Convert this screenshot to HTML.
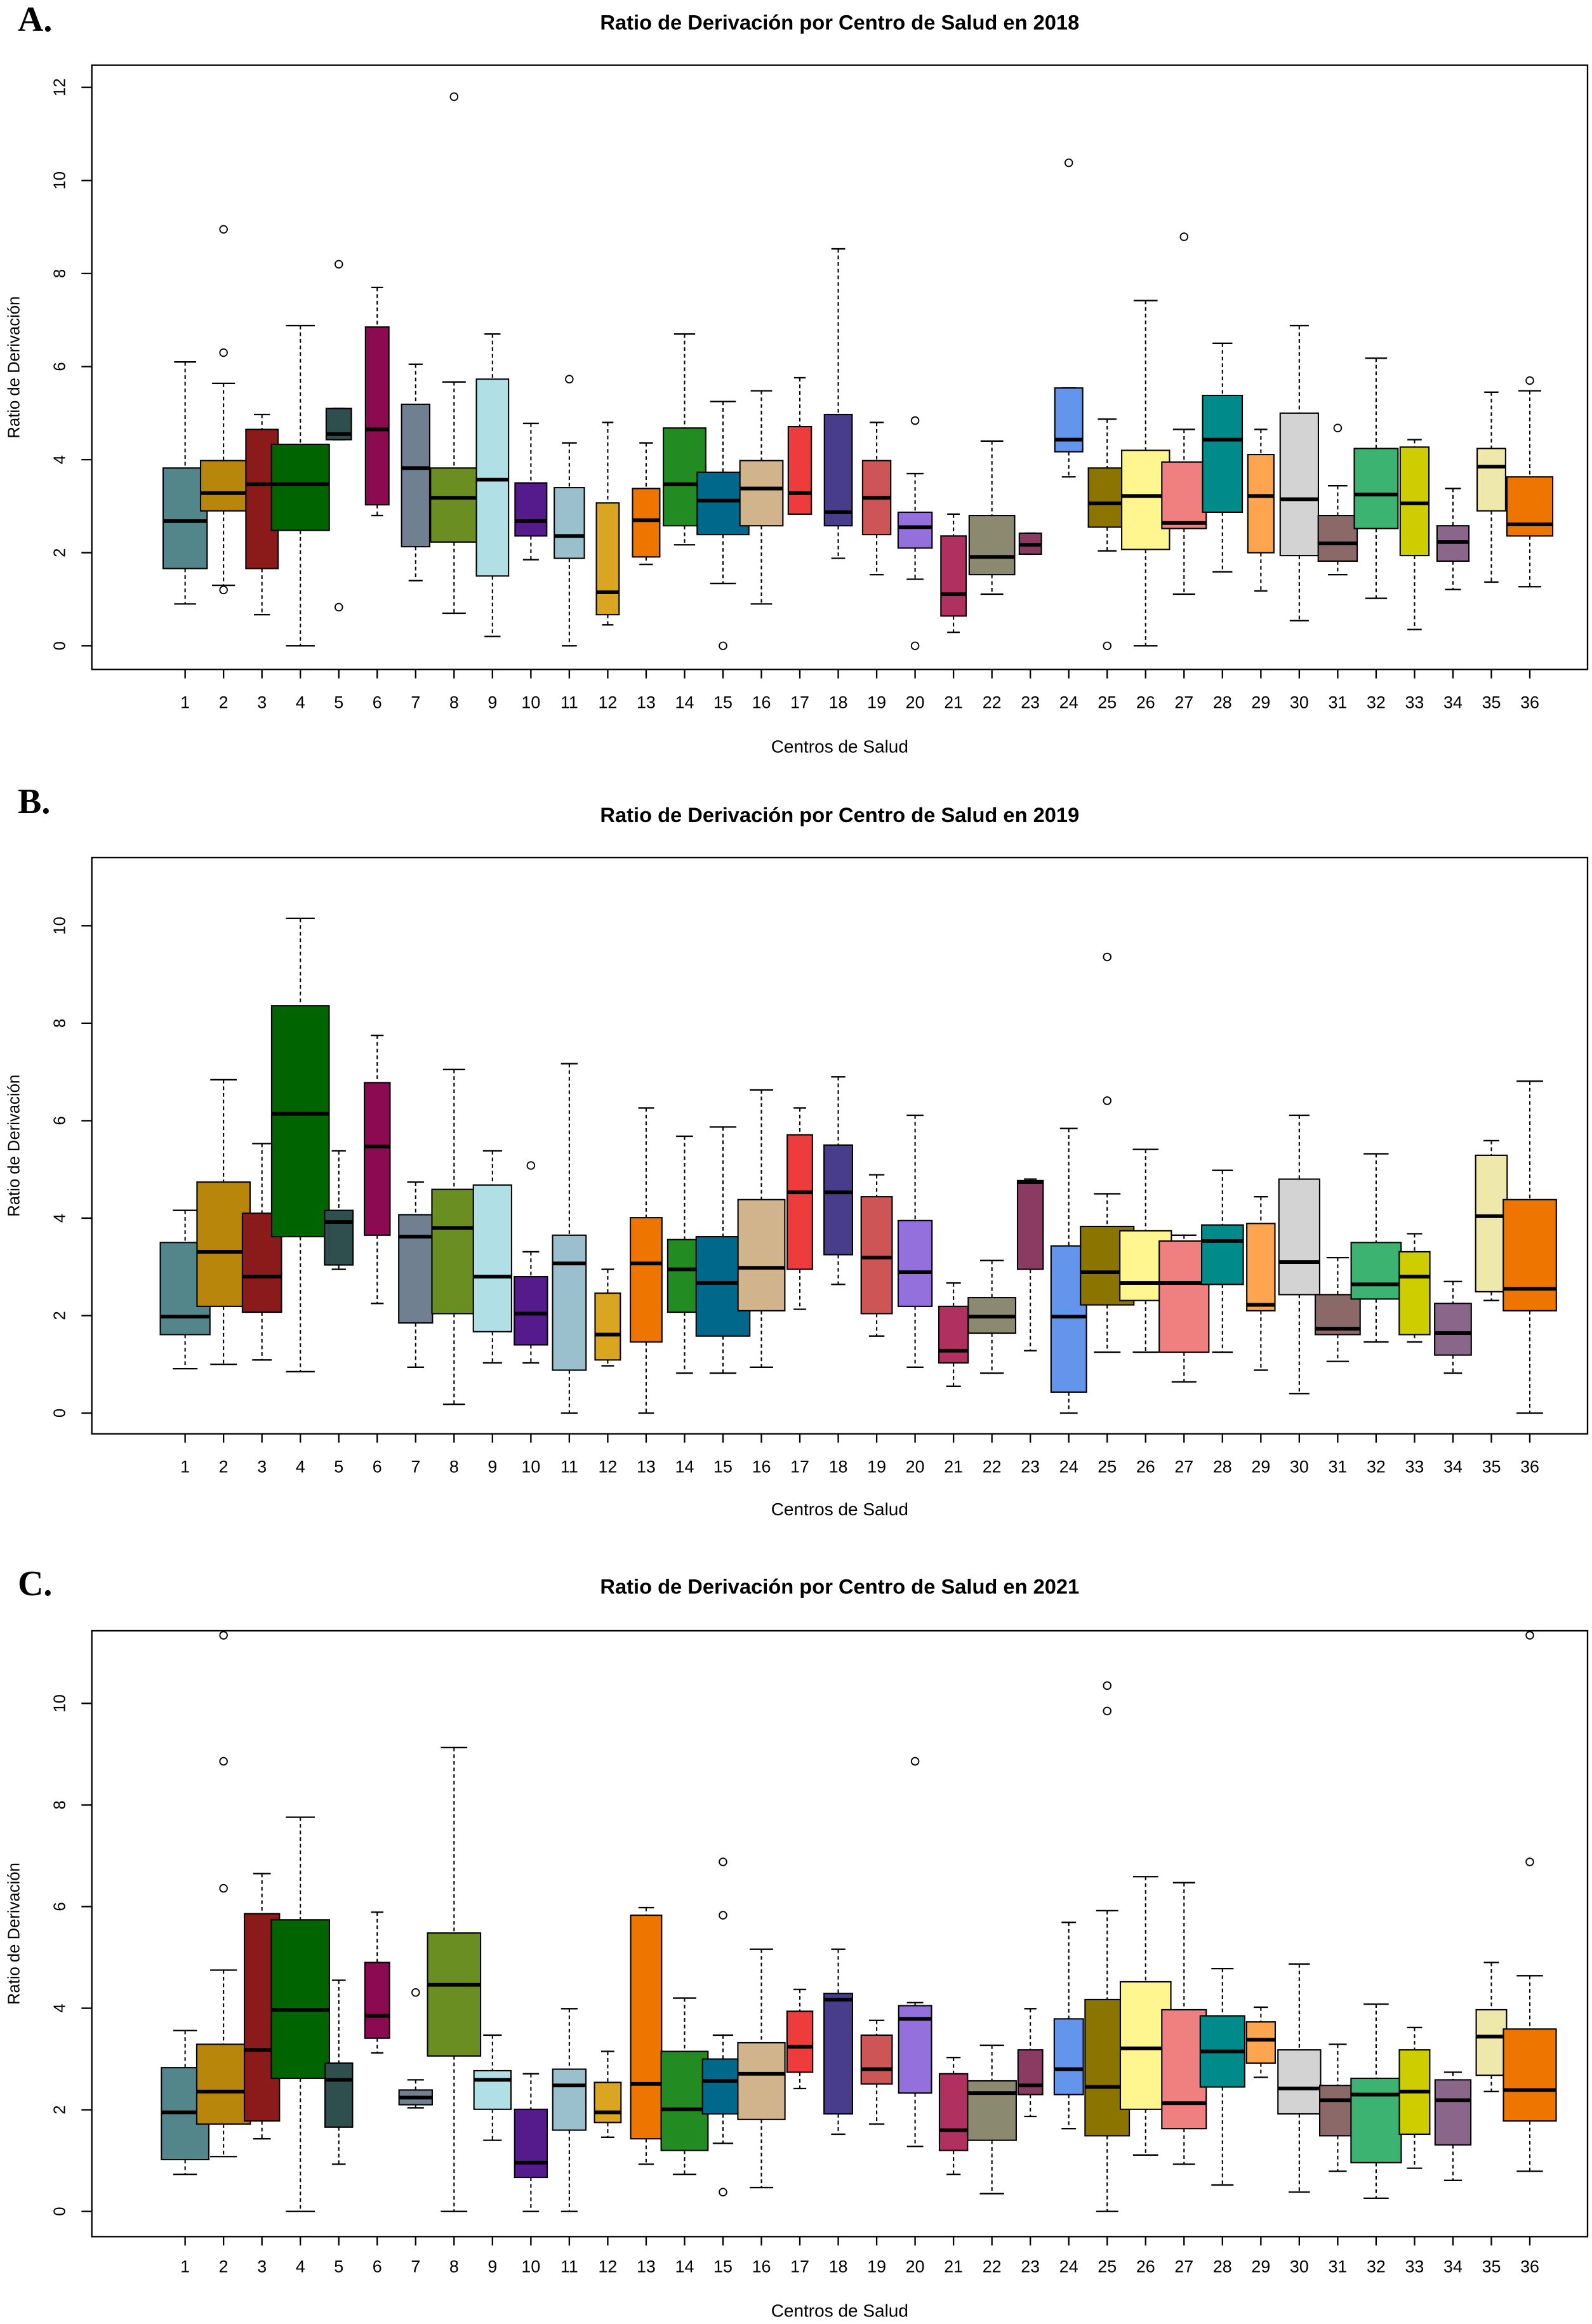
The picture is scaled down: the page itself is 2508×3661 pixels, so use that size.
<!DOCTYPE html>
<html><head><meta charset="utf-8"><style>
html,body{margin:0;padding:0;background:#fff}
svg{display:block}
text{font-family:"Liberation Sans",sans-serif}
</style></head><body>
<svg id="chart" width="2508" height="3661" viewBox="0 0 1075 1569" preserveAspectRatio="none" xmlns="http://www.w3.org/2000/svg"></svg>
<script>
const centers = Array.from({length:36},(_,i)=>String(i+1));
const colors = ["#53868B","#B8860B","#8B1A1A","#006400","#2F4F4F","#8B0A50","#708090","#6B8E23","#B0E0E6","#551A8B","#9AC0CD","#DAA520","#EE7600","#228B22","#00688B","#D2B48C","#EE3B3B","#483D8B","#CD5555","#9370DB","#B03060","#8B8970","#8B3A62","#6495ED","#8B7500","#FFF68F","#F08080","#008B8B","#FFA54F","#D3D3D3","#8B6969","#3CB371","#CDCD00","#8B668B","#EEE8AA","#EE7600"];

// 2018
const loA  =[0.9,1.3,0.67,0,4.43,2.8,1.4,0.7,0.2,1.85,0,0.45,1.75,2.17,1.34,0.9,2.83,1.88,1.53,1.43,0.29,1.11,1.97,3.63,2.04,0,1.11,1.59,1.18,0.54,1.53,1.02,0.35,1.21,1.37,1.27];
const q1A  =[1.66,2.9,1.66,2.48,4.43,3.03,2.13,2.23,1.5,2.36,1.88,0.67,1.91,2.58,2.39,2.58,2.83,2.58,2.39,2.1,0.64,1.53,1.97,4.17,2.55,2.07,2.52,2.87,2.0,1.94,1.82,2.52,1.94,1.82,2.9,2.36];
const medA =[2.68,3.28,3.47,3.47,4.55,4.65,3.82,3.18,3.57,2.68,2.36,1.15,2.7,3.47,3.12,3.38,3.28,2.87,3.18,2.55,1.11,1.91,2.17,4.43,3.06,3.22,2.64,4.43,3.22,3.15,2.2,3.25,3.06,2.23,3.85,2.61];
const q3A  =[3.82,3.98,4.65,4.33,5.1,6.85,5.19,3.82,5.73,3.5,3.4,3.07,3.38,4.68,3.73,3.98,4.71,4.97,3.98,2.87,2.36,2.8,2.42,5.54,3.82,4.2,3.95,5.38,4.11,5.0,2.8,4.24,4.27,2.58,4.24,3.63];
const hiA  =[6.1,5.64,4.97,6.88,5.1,7.7,6.05,5.67,6.7,4.78,4.36,4.8,4.36,6.7,5.25,5.48,5.76,8.53,4.8,3.7,2.83,4.4,2.42,5.54,4.87,7.42,4.65,6.5,4.65,6.88,3.44,6.18,4.43,3.38,5.45,5.48];
const outA =[[],[8.95,6.3,1.2],[],[],[8.2,0.83],[],[],[11.8],[],[],[5.73],[],[],[],[0],[],[],[],[],[4.84,0],[],[],[],[10.38],[0],[],[8.79],[],[],[],[4.68],[],[],[],[],[5.7]];
const wA   =[29.7,31,21.7,39,17,15.8,19,31.7,21.7,21.4,20.3,15.3,18.4,28.6,34.9,29,15.6,18.7,19,22.9,17,30.7,14.9,18.8,25.4,32.3,30,26.8,17.6,25.8,26.3,29.5,19.4,21.5,19.2,30.9];
// 2019
const loB  =[0.91,1.0,1.09,0.85,2.95,2.25,0.94,0.18,1.03,1.03,0,0.97,0,0.82,0.82,0.94,2.13,2.64,1.58,0.94,0.55,0.82,1.28,0,1.25,1.25,0.64,1.25,0.88,0.4,1.06,1.46,1.46,0.82,2.31,0];
const q1B  =[1.61,2.19,2.07,3.62,3.04,3.65,1.85,2.04,1.67,1.4,0.88,1.09,1.46,2.07,1.58,2.1,2.95,3.25,2.04,2.19,1.03,1.64,2.95,0.43,2.22,2.31,1.25,2.64,2.1,2.43,1.61,2.34,1.61,1.19,2.49,2.1];
const medB =[1.98,3.31,2.8,6.14,3.92,5.47,3.62,3.8,2.8,2.04,3.07,1.61,3.07,2.95,2.67,2.98,4.53,4.53,3.19,2.89,1.28,1.98,4.74,1.98,2.89,2.67,2.67,3.53,2.22,3.1,1.73,2.64,2.8,1.64,4.04,2.55];
const q3B  =[3.5,4.74,4.1,8.36,4.16,6.78,4.07,4.59,4.68,2.8,3.65,2.46,4.01,3.56,3.62,4.38,5.71,5.5,4.44,3.95,2.19,2.37,4.77,3.43,3.83,3.74,3.53,3.86,3.89,4.8,2.43,3.5,3.31,2.25,5.29,4.38];
const hiB  =[4.16,6.84,5.53,10.15,5.38,7.75,4.74,7.05,5.38,3.31,7.17,2.95,6.26,5.68,5.87,6.63,6.26,6.9,4.89,6.11,2.67,3.13,4.8,5.84,4.5,5.41,3.65,4.98,4.44,6.11,3.19,5.32,3.68,2.7,5.59,6.81];
const outB =[[],[],[],[],[],[],[],[],[],[5.08],[],[],[],[],[],[],[],[],[],[],[],[],[],[],[6.41,9.36],[],[],[],[],[],[],[],[],[],[],[]];
const wB   =[33.5,35.8,26.4,38.8,19.2,17.3,22.8,29.9,25.8,22.4,22.6,17.1,21.3,22.8,36.2,31.6,17,19.2,20.9,22.8,19.8,32,17.3,23.9,36,34.8,33.5,28.1,19,27.5,30.3,33.7,20.7,24.7,21.3,35.8];
// 2021
const loC  =[0.73,1.08,1.43,0,0.93,3.12,2.04,0,1.4,0,0,1.46,0.93,0.73,1.34,0.47,2.42,1.52,1.72,1.28,0.73,0.35,1.87,1.63,0,1.11,0.93,0.52,2.64,0.38,0.79,0.26,0.85,0.61,2.36,0.79];
const q1C  =[1.02,1.72,1.78,2.62,1.66,3.41,2.1,3.06,2.01,0.67,1.6,1.75,1.43,1.2,1.92,1.81,2.74,1.92,2.51,2.33,1.2,1.4,2.3,2.3,1.49,2.01,1.63,2.45,2.92,1.92,1.49,0.96,1.52,1.31,2.68,1.78];
const medC =[1.95,2.36,3.18,3.97,2.59,3.85,2.24,4.46,2.59,0.96,2.48,1.95,2.51,2.01,2.57,2.71,3.24,4.17,2.8,3.79,1.6,2.33,2.48,2.8,2.45,3.21,2.13,3.15,3.38,2.42,2.19,2.3,2.36,2.19,3.44,2.39];
const q3C  =[2.83,3.29,5.86,5.74,2.92,4.9,2.39,5.48,2.77,2.01,2.8,2.54,5.83,3.15,3.0,3.32,3.94,4.29,3.47,4.05,2.71,2.57,3.18,3.79,4.17,4.52,3.97,3.85,3.73,3.18,2.48,2.62,3.18,2.59,3.97,3.59];
const hiC  =[3.56,4.75,6.65,7.76,4.55,5.89,2.59,9.13,3.47,2.71,3.99,3.15,5.98,4.2,3.47,5.16,4.37,5.16,3.76,4.11,3.03,3.27,3.99,5.69,5.92,6.59,6.47,4.78,4.02,4.87,3.29,4.08,3.62,2.74,4.9,4.64];
const outC =[[],[11.34,8.86,6.36],[],[],[],[],[4.31],[],[],[],[],[],[],[],[6.88,5.83,0.38],[],[],[],[],[8.86],[],[],[],[],[10.35,9.85],[],[],[],[],[],[],[],[],[],[],[11.34,6.88]];
const wC   =[32,36.2,23.7,39.2,18.6,16.6,22.4,35.8,25,22,22.4,17.9,20.9,31.6,27.7,31.8,17.3,19.2,20.9,22.2,19,32.8,16.6,19.6,29.9,34.1,30,30,19.4,28.8,24.3,33.9,20.5,24.1,20.5,35.6];

const panels=[
 {letter:"A.",title:"Ratio de Derivación por Centro de Salud en 2018",lo:loA,q1:q1A,med:medA,q3:q3A,hi:hiA,out:outA,w:wA,frameTop:44,frameBot:452,y0:436,yTop:59,vTop:12,ticks:[0,2,4,6,8,10,12],titleY:20,letterY:21,tickY:478,xlabY:508},
 {letter:"B.",title:"Ratio de Derivación por Centro de Salud en 2019",lo:loB,q1:q1B,med:medB,q3:q3B,hi:hiB,out:outB,w:wB,frameTop:579,frameBot:968,y0:954,yTop:625,vTop:10,ticks:[0,2,4,6,8,10],titleY:555,letterY:549,tickY:994,xlabY:1023},
 {letter:"C.",title:"Ratio de Derivación por Centro de Salud en 2021",lo:loC,q1:q1C,med:medC,q3:q3C,hi:hiC,out:outC,w:wC,frameTop:1101,frameBot:1510,y0:1493,yTop:1150,vTop:10,ticks:[0,2,4,6,8,10],titleY:1076,letterY:1077,tickY:1534,xlabY:1564}
];
const NS="http://www.w3.org/2000/svg";
const svg=document.getElementById('chart');
function mk(tag,attrs,parent){const e=document.createElementNS(NS,tag);for(const k in attrs)e.setAttribute(k,attrs[k]);(parent||svg).appendChild(e);return e;}
const xScale=i=>125+i*(1033-125)/35;
panels.forEach((p,pi)=>{
  const g=mk('g',{});
  
  
  const yS=v=>p.y0-v*(p.y0-p.yTop)/p.vTop;
  const L=mk('text',{x:12,y:p.letterY,'font-size':24,'font-weight':'bold',style:'font-family:"Liberation Serif",serif'},g);L.textContent=p.letter;
  
  const T=mk('text',{x:567,y:p.titleY,'font-size':14,'font-weight':'bold','text-anchor':'middle'},g);T.textContent=p.title;
  
  const F=mk('rect',{x:62,y:p.frameTop,width:1010,height:p.frameBot-p.frameTop,fill:'none',stroke:'#000','stroke-width':1},g);
  
  p.ticks.forEach(t=>{
    const y=yS(t);
    mk('line',{x1:55,x2:62,y1:y,y2:y,stroke:'#000'},g);
    const tx=mk('text',{x:44,y:y,'font-size':11,'text-anchor':'middle',transform:`rotate(-90 44 ${y})`},g);tx.textContent=t;
    
  });
  const yl=(p.frameTop+p.frameBot)/2;
  const YL=mk('text',{x:13,y:yl,'font-size':11,'text-anchor':'middle',transform:`rotate(-90 13 ${yl})`},g);YL.textContent="Ratio de Derivación";
  
  centers.forEach((c,i)=>{
    const x=xScale(i);
    mk('line',{x1:x,x2:x,y1:p.frameBot,y2:p.frameBot+6,stroke:'#000'},g);
    const tx=mk('text',{x:x,y:p.tickY,'font-size':11.5,'text-anchor':'middle'},g);tx.textContent=c;
    
    const bg=mk('g',{},g);
    
    
    const BW=p.w[i], cap=BW/4;
    const yq1=yS(p.q1[i]),yq3=yS(p.q3[i]),ylo=yS(p.lo[i]),yhi=yS(p.hi[i]),ym=yS(p.med[i]);
    mk('line',{x1:x,x2:x,y1:yhi,y2:yq3,stroke:'#000','stroke-dasharray':'2.5,2','stroke-width':0.9},bg);
    mk('line',{x1:x,x2:x,y1:yq1,y2:ylo,stroke:'#000','stroke-dasharray':'2.5,2','stroke-width':0.9},bg);
    mk('line',{x1:x-cap,x2:x+cap,y1:yhi,y2:yhi,stroke:'#000'},bg);
    mk('line',{x1:x-cap,x2:x+cap,y1:ylo,y2:ylo,stroke:'#000'},bg);
    mk('rect',{x:x-BW/2,y:yq3,width:BW,height:Math.max(yq1-yq3,0.5),fill:colors[i],stroke:'#000','stroke-width':0.9},bg);
    mk('line',{x1:x-BW/2,x2:x+BW/2,y1:ym,y2:ym,stroke:'#000','stroke-width':2.5},bg);
    p.out[i].forEach(v=>{
      const o=mk('circle',{cx:x,cy:yS(v),r:2.5,fill:'none',stroke:'#000','stroke-width':0.8},bg);
      
    });
  });
  const XL=mk('text',{x:567,y:p.xlabY,'font-size':12,'text-anchor':'middle'},g);XL.textContent="Centros de Salud";
  
});
</script>
</body></html>
